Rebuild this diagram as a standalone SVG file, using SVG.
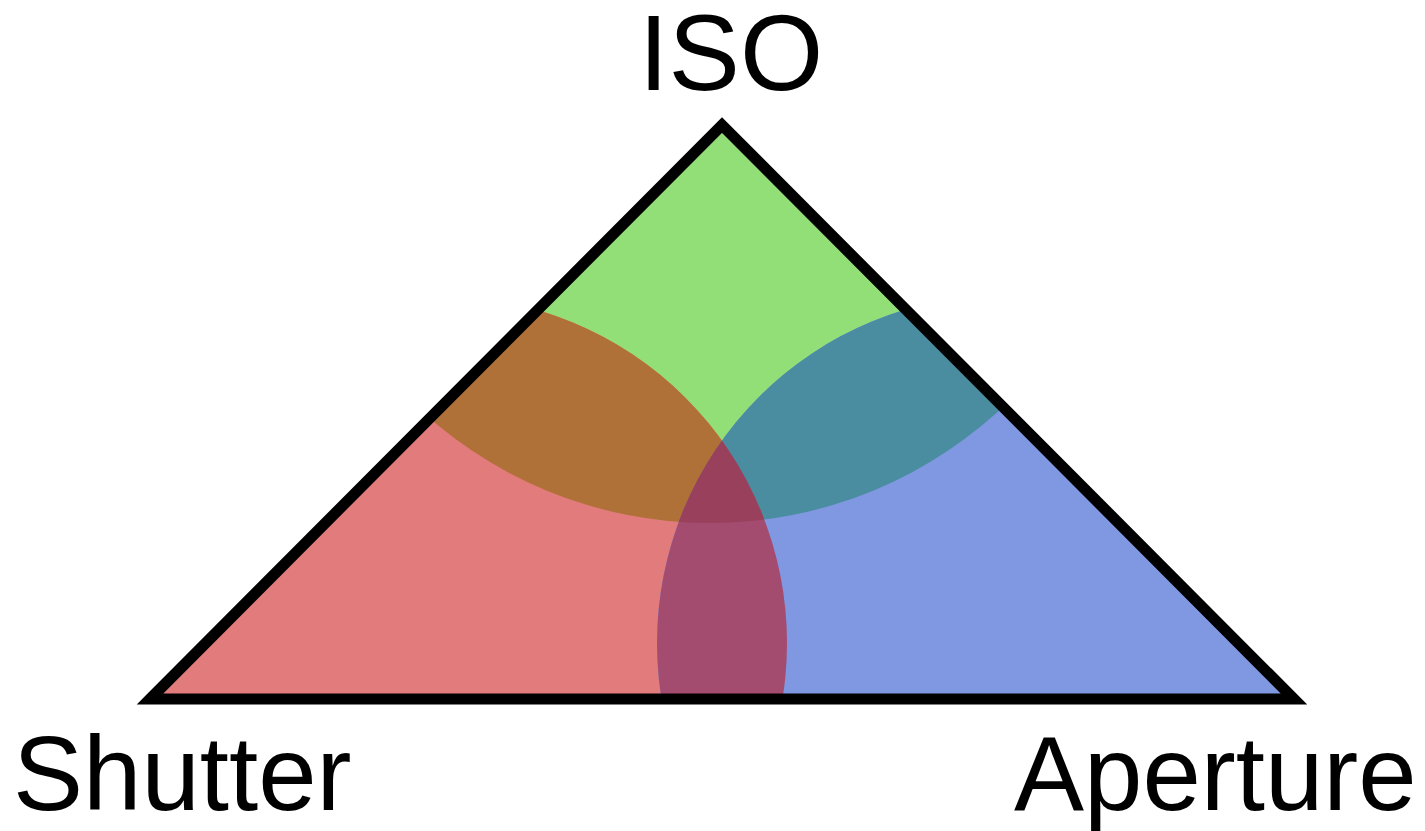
<svg xmlns="http://www.w3.org/2000/svg" width="1425" height="831" viewBox="0 0 1425 831">
  <style>
    .lbl { font-family: "Liberation Sans", Arial, sans-serif; fill: #000; }
    .edge { fill: none; stroke: #000; stroke-width: 11; stroke-linejoin: miter; stroke-miterlimit: 10; }
  </style>
  <defs>
    <clipPath id="tri"><polygon points="150,699 722,125 1294,699"/></clipPath>
    <clipPath id="cR"><circle cx="440" cy="643" r="347"/></clipPath>
    <clipPath id="cB"><circle cx="1005" cy="643" r="348"/></clipPath>
    <clipPath id="cG"><circle cx="710" cy="95" r="428"/></clipPath>
  </defs>
  <rect width="1425" height="831" fill="#fff"/>
  <g id="regions" clip-path="url(#tri)">
    <g id="iso"><circle cx="710" cy="95" r="428" fill="#92DF78"/></g>
    <g id="shutter"><circle cx="440" cy="643" r="347" fill="#E27B7B"/></g>
    <g id="aperture"><circle cx="1005" cy="643" r="348" fill="#7F98E1"/></g>
    <g id="shutter-iso" clip-path="url(#cR)"><circle cx="710" cy="95" r="428" fill="#B07139"/></g>
    <g id="aperture-iso" clip-path="url(#cB)"><circle cx="710" cy="95" r="428" fill="#4A8DA0"/></g>
    <g id="shutter-aperture" clip-path="url(#cR)"><circle cx="1005" cy="643" r="348" fill="#A44B70"/></g>
    <g id="all-three" clip-path="url(#cR)"><g clip-path="url(#cB)"><circle cx="710" cy="95" r="428" fill="#98405C"/></g></g>
  </g>
  <g id="triangle"><polygon class="edge" points="150,699 722,125 1294,699"/></g>
  <g id="labels">
    <text class="lbl" x="731" y="90" font-size="107" text-anchor="middle">ISO</text>
    <text class="lbl" x="13" y="810" font-size="105">Shutter</text>
    <text class="lbl" x="1014" y="810" font-size="105">Aperture</text>
  </g>
</svg>
